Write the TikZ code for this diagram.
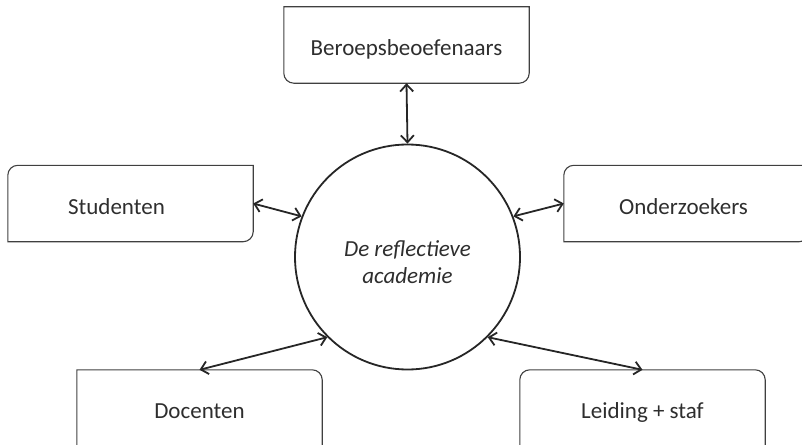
\documentclass[tikz,border=0pt]{standalone}
\usepackage{fontspec}
\setmainfont{Carlito}
\usetikzlibrary{arrows.meta}

\tikzset{
  box/.style={minimum width=245pt, minimum height=76pt, inner sep=0pt,
    text height=21pt, text depth=0pt, text=black!82, font=\fontsize{23}{27}\selectfont},
  boxline/.style={draw=black!75, line width=1.1pt},
  link/.style={{Straight Barb[length=7pt,width=13pt]}-{Straight Barb[length=7pt,width=13pt]}, line width=1.8pt, black!85}
}

\begin{document}
\begin{tikzpicture}[x=1pt, y=-1pt]
  \useasboundingbox (0,0) rectangle (802,444);

  \node[circle, draw=black!85, line width=1.8pt, minimum size=225pt, inner sep=0pt] (acad) at (407.5,257) {};
  \node[align=center, text=black!82, font=\fontsize{23}{26.5}\selectfont\itshape]
        (acadtxt) at ([yshift=-5pt]acad.center) {De reflectieve\\academie};

  \node[box] (beroep) at (406.5,45) {Beroepsbeoefenaars};
  \node[box] (stud) at (130.5,203.5) {\hspace*{-28pt}Studenten};
  \node[box] (onder) at (686.5,203.5) {\hspace*{-6pt}Onderzoekers};
  \node[box] (doc) at (199.5,408) {Docenten};
  \node[box] (leid) at (642.5,408) {Leiding + staf};

  % outlines, only some corners rounded
  \draw[boxline] (beroep.north west) -- (beroep.north east) [rounded corners=10pt] -- (beroep.south east) -- (beroep.south west) [sharp corners] -- cycle;
  \draw[boxline] (stud.north east) [rounded corners=10pt] -- (stud.south east) [sharp corners] -- (stud.south west) [rounded corners=10pt] -- (stud.north west) [sharp corners] -- cycle;
  \draw[boxline] (onder.north east) [rounded corners=10pt] -- (onder.south east) [sharp corners] -- (onder.south west) [rounded corners=10pt] -- (onder.north west) [sharp corners] -- cycle;
  \draw[boxline] (doc.south west) -- (doc.north west) [rounded corners=10pt] -- (doc.north east) [sharp corners] -- (doc.south east);
  \draw[boxline] (leid.south west) [rounded corners=10pt] -- (leid.north west) -- (leid.north east) [sharp corners] -- (leid.south east);

  \draw[link] (beroep.south) -- (acad.north);
  \draw[link] (stud.east) -- (acad.159);
  \draw[link] (onder.west) -- (acad.21);
  \draw[link] (doc.north) -- (acad.225);
  \draw[link] (leid.north) -- (acad.-45);
\end{tikzpicture}
\end{document}
